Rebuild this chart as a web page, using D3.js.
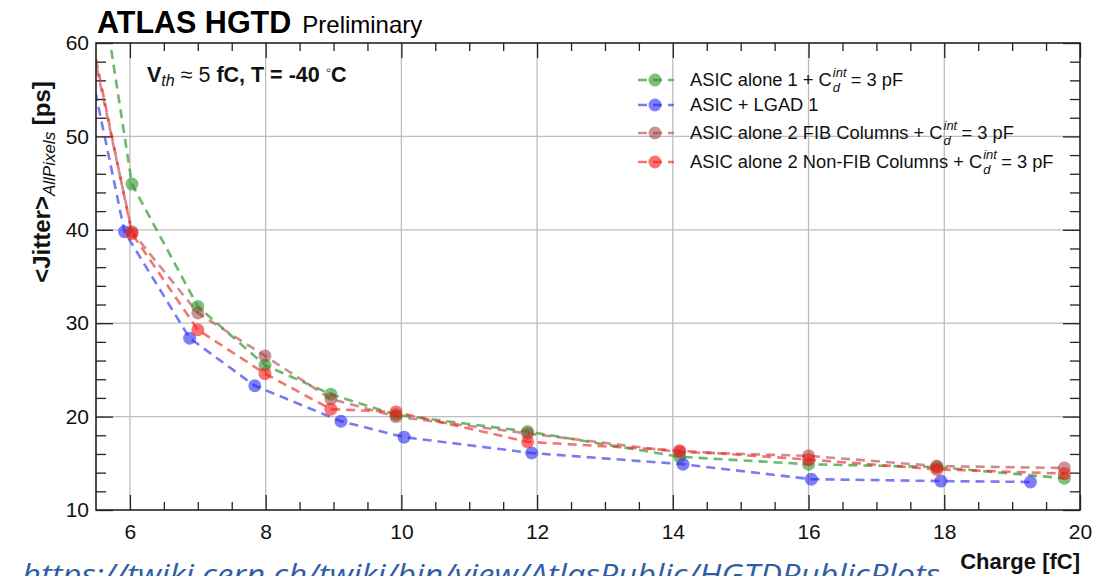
<!DOCTYPE html>
<html>
<head>
<meta charset="utf-8">
<script src="https://cdn.jsdelivr.net/npm/d3@7"></script>
<style>
  body { margin: 0; background: #fff; }
  text { font-family: "Liberation Sans", Arial, sans-serif; }
</style>
</head>
<body>
<div id="chart"></div>
<script>
// series values (first point sits outside the frame and is clipped)
const xAsic1 = [5.05, 6.03, 7.0, 7.99, 8.96, 9.92, 11.86, 14.1, 16.0, 17.89, 19.77];
const yAsic1 = [91, 44.9, 31.8, 25.5, 22.4, 20.2, 18.4, 15.7, 14.9, 14.6, 13.4];

const xLgad = [4.95, 5.92, 6.88, 7.84, 9.11, 10.04, 11.92, 14.15, 16.04, 17.95, 19.27];
const yLgad = [73.6, 39.8, 28.4, 23.3, 19.5, 17.8, 16.1, 14.9, 13.3, 13.1, 13.0];

const xFib = [5.05, 6.03, 7.0, 7.99, 8.96, 9.92, 11.86, 14.1, 16.0, 17.89, 19.77];
const yFib = [73, 39.8, 31.1, 26.5, 21.9, 20.0, 18.2, 16.2, 15.8, 14.7, 14.5];

const xNonFib = [5.05, 6.03, 7.0, 7.99, 8.96, 9.92, 11.86, 14.1, 16.0, 17.89, 19.77];
const yNonFib = [74, 39.6, 29.3, 24.6, 20.8, 20.5, 17.3, 16.35, 15.4, 14.35, 13.9];

const labels = ["ASIC alone 1 + C", "ASIC + LGAD 1", "ASIC alone 2 FIB Columns + C", "ASIC alone 2 Non-FIB Columns + C"];
const xTicks = [6, 8, 10, 12, 14, 16, 18, 20];
const yTicks = [10, 20, 30, 40, 50, 60];

const series = [
  { x: xAsic1, y: yAsic1, line: "rgba(60,160,60,0.75)", fill: "rgba(40,150,40,0.6)", cap: true },
  { x: xLgad, y: yLgad, line: "rgba(50,50,235,0.65)", fill: "rgba(40,40,240,0.6)", cap: false },
  { x: xFib, y: yFib, line: "rgba(180,80,80,0.65)", fill: "rgba(160,60,60,0.55)", cap: true },
  { x: xNonFib, y: yNonFib, line: "rgba(240,40,40,0.65)", fill: "rgba(250,20,20,0.6)", cap: true }
];

let W = 1117, H = 576;
let margin = { top: 43, right: 37, bottom: 66, left: 96 },
  width = W - margin.left - margin.right,
  height = H - margin.top - margin.bottom;

let svg = d3.select("#chart").append("svg")
  .attr("width", W)
  .attr("height", H);

let g = svg.append("g")
  .attr("transform", "translate(" + margin.left + "," + margin.top + ")");

let x = d3.scaleLinear().domain([5.5, 20]).range([0, width]);
let y = d3.scaleLinear().domain([10, 60]).range([height, 0]);

// grid
g.append("g").selectAll("line").data(xTicks.slice(0, -1)).join("line")
  .attr("x1", d => x(d)).attr("x2", d => x(d))
  .attr("y1", 0).attr("y2", height)
  .attr("stroke", "#bdbdbd").attr("stroke-width", 1.3);
g.append("g").selectAll("line").data(yTicks.slice(1, -1)).join("line")
  .attr("y1", d => y(d)).attr("y2", d => y(d))
  .attr("x1", 0).attr("x2", width)
  .attr("stroke", "#bdbdbd").attr("stroke-width", 1.3);

// axes: ticks pointing inward on all four sides
let xMinor = d3.range(6, 20.01, 0.5);
let yMinor = d3.range(10, 60.01, 2);

function tickLen(v, step) { return Math.abs(v / step - Math.round(v / step)) < 1e-6 ? 15 : 8; }

g.append("g").attr("transform", "translate(0," + height + ")")
  .call(d3.axisBottom(x).tickValues(xMinor).tickSize(0).tickFormat(""))
  .call(a => a.select(".domain").remove())
  .selectAll(".tick line").attr("y2", d => -tickLen(d, 2)).attr("stroke", "#222").attr("stroke-width", 1.3);
g.append("g")
  .call(d3.axisTop(x).tickValues(xMinor).tickSize(0).tickFormat(""))
  .call(a => a.select(".domain").remove())
  .selectAll(".tick line").attr("y2", d => tickLen(d, 2)).attr("stroke", "#222").attr("stroke-width", 1.3);
g.append("g")
  .call(d3.axisLeft(y).tickValues(yMinor).tickSize(0).tickFormat(""))
  .call(a => a.select(".domain").remove())
  .selectAll(".tick line").attr("x2", d => tickLen(d, 10) + 2).attr("stroke", "#222").attr("stroke-width", 1.3);
g.append("g").attr("transform", "translate(" + width + ",0)")
  .call(d3.axisRight(y).tickValues(yMinor).tickSize(0).tickFormat(""))
  .call(a => a.select(".domain").remove())
  .selectAll(".tick line").attr("x2", d => -(tickLen(d, 10) + 2)).attr("stroke", "#222").attr("stroke-width", 1.3);

// tick labels
g.append("g").attr("transform", "translate(0," + height + ")")
  .call(d3.axisBottom(x).tickValues(xTicks).tickSize(0).tickPadding(10))
  .call(a => a.select(".domain").remove())
  .selectAll("text").attr("font-size", 21).attr("fill", "#111").attr("dy", "0.9em")
  .style("font-family", "'Liberation Sans', Arial, sans-serif");
g.append("g")
  .call(d3.axisLeft(y).tickValues(yTicks).tickSize(0).tickPadding(7))
  .call(a => a.select(".domain").remove())
  .selectAll("text").attr("font-size", 21).attr("fill", "#111")
  .style("font-family", "'Liberation Sans', Arial, sans-serif");

// data
svg.append("clipPath").attr("id", "clip").append("rect")
  .attr("x", 0).attr("y", 0).attr("width", width).attr("height", height);
let plot = g.append("g").attr("clip-path", "url(#clip)");

let line = d3.line().x(d => x(d[0])).y(d => y(d[1]));

series.forEach(s => {
  let pts = s.x.map((v, i) => [v, s.y[i]]);
  plot.append("path").datum(pts)
    .attr("d", line)
    .attr("fill", "none")
    .attr("stroke", s.line)
    .attr("stroke-width", 2.6)
    .attr("stroke-dasharray", "9,6");
});
series.forEach(s => {
  let pts = s.x.map((v, i) => [v, s.y[i]]);
  plot.append("g").selectAll("circle").data(pts).join("circle")
    .attr("cx", d => x(d[0])).attr("cy", d => y(d[1]))
    .attr("r", 6.5)
    .attr("fill", s.fill);
});

// frame
g.append("rect").attr("width", width).attr("height", height)
  .attr("fill", "none").attr("stroke", "#222").attr("stroke-width", 1.6);

// legend
let legY = [80, 105, 133, 162];
let leg = svg.append("g");
series.forEach((s, i) => {
  let r = leg.append("g").attr("transform", "translate(638," + legY[i] + ")");
  r.append("line").attr("x1", 0).attr("x2", 36).attr("y1", 0).attr("y2", 0)
    .attr("stroke", s.line).attr("stroke-width", 2.6).attr("stroke-dasharray", "9,6");
  r.append("circle").attr("cx", 17).attr("cy", 0).attr("r", 6.5).attr("fill", s.fill);
  let t = r.append("text").attr("x", 52).attr("y", 6).attr("font-size", 18.3).attr("fill", "#111")
    .text(labels[i]);
  if (s.cap) {
    // C with stacked superscript "int" and subscript "d"
    let base = t.node().getComputedTextLength() + 52;
    r.append("text").attr("x", base + 1).attr("y", -3).attr("font-size", 13)
      .attr("font-style", "italic").attr("fill", "#111").text("int");
    r.append("text").attr("x", base + 1).attr("y", 12).attr("font-size", 13)
      .attr("font-style", "italic").attr("fill", "#111").text("d");
    r.append("text").attr("x", base + 19).attr("y", 6).attr("font-size", 18.3)
      .attr("fill", "#111").text("= 3 pF");
  }
});

// title
let title = svg.append("text").attr("x", 97).attr("y", 33).attr("fill", "#000");
title.append("tspan").attr("font-size", 30.5).attr("font-weight", "bold").text("ATLAS HGTD");
title.append("tspan").attr("font-size", 24).attr("dx", 11).text("Preliminary");

// conditions
let cond = svg.append("text").attr("x", 147).attr("y", 82).attr("font-size", 21.5).attr("font-weight", "bold").attr("fill", "#111");
cond.append("tspan").text("V");
cond.append("tspan").attr("font-size", 16).attr("font-style", "italic").attr("font-weight", "normal").attr("dy", 4).text("th");
cond.append("tspan").attr("font-weight", "normal").attr("dy", -4).text(" \u2248 5 ");
cond.append("tspan").text("fC, T = -40 ");
cond.append("tspan").attr("font-weight", "normal").attr("font-size", 15).attr("dy", -7).text("\u25E6");
cond.append("tspan").attr("dy", 7).text("C");

// axis titles
let yt = svg.append("text").attr("transform", "translate(50,182) rotate(-90)")
  .attr("text-anchor", "middle").attr("font-size", 24).attr("font-weight", "bold").attr("fill", "#111");
yt.append("tspan").text("<Jitter>");
yt.append("tspan").attr("font-size", 17).attr("font-style", "italic").attr("font-weight", "normal").attr("dy", 5).text("AllPixels");
yt.append("tspan").attr("dy", -5).text(" [ps]");

svg.append("text").attr("x", 1080).attr("y", 569).attr("text-anchor", "end")
  .attr("font-size", 22).attr("font-weight", "bold").attr("fill", "#111").text("Charge [fC]");

// source link (cut by the bottom edge, as in the original picture)
svg.append("text").attr("x", 22).attr("y", 585)
  .attr("font-size", 30).attr("font-style", "italic").attr("fill", "#2f5ea6")
  .attr("textLength", 918).attr("lengthAdjust", "spacingAndGlyphs")
  .style("font-family", "'Open Sans', 'Liberation Sans', sans-serif")
  .text("https://twiki.cern.ch/twiki/bin/view/AtlasPublic/HGTDPublicPlots");
</script>
</body>
</html>
